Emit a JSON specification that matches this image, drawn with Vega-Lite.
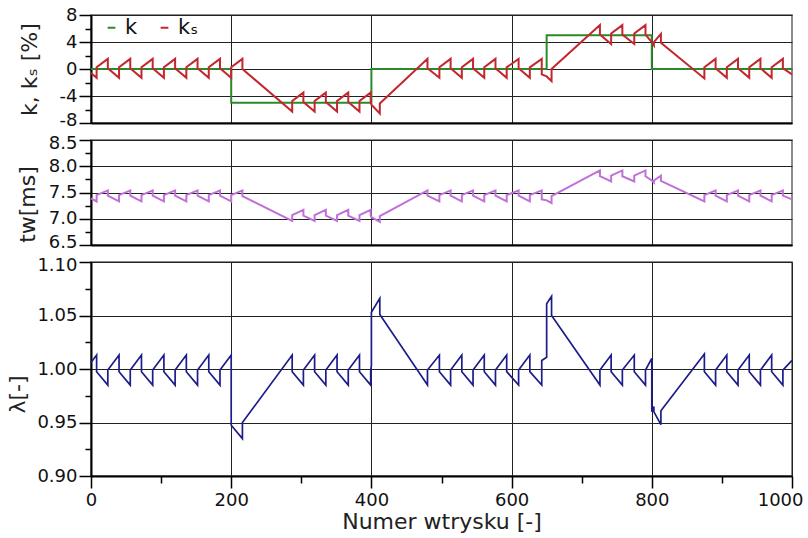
{
"$schema": "https://vega.github.io/schema/vega-lite/v6.json",
"padding": {"left": 5, "top": 5, "right": 0, "bottom": 0},
"background": "white",
"bounds": "flush",
"spacing": 17,
"config": {
  "font": "DejaVu Sans",
  "view": {"stroke": "#666", "strokeWidth": 1.5},
  "axis": {"labelFont": "DejaVu Sans", "labelFontSize": 18, "labelColor": "#111", "titleFont": "DejaVu Sans", "titleFontSize": 22, "titleFontWeight": "normal", "titleColor": "#222", "domainColor": "#000", "domainWidth": 2, "tickColor": "#000", "tickWidth": 1.5, "gridColor": "#222", "gridWidth": 1, "labelOverlap": false}
},
"datasets": {
"k": [{"i":1,"x":0,"v":0},{"i":2,"x":200,"v":0},{"i":3,"x":200,"v":-5},{"i":4,"x":400,"v":-5},{"i":5,"x":400,"v":0},{"i":6,"x":650,"v":0},{"i":7,"x":650,"v":5},{"i":8,"x":800,"v":5},{"i":9,"x":800,"v":0},{"i":10,"x":1000,"v":0}],
"ks": [
{"i":1,"x":0,"v":-0.6},{"i":2,"x":8,"v":-1.3},{"i":3,"x":8,"v":0.25},{"i":4,"x":24,"v":1.5},{"i":5,"x":24,"v":0.1},
{"i":6,"x":40,"v":-1.3},{"i":7,"x":40,"v":0.25},{"i":8,"x":56,"v":1.5},{"i":9,"x":56,"v":0.1},
{"i":10,"x":72,"v":-1.3},{"i":11,"x":72,"v":0.25},{"i":12,"x":88,"v":1.5},{"i":13,"x":88,"v":0.1},
{"i":14,"x":104,"v":-1.3},{"i":15,"x":104,"v":0.25},{"i":16,"x":120,"v":1.5},{"i":17,"x":120,"v":0.1},
{"i":18,"x":136,"v":-1.3},{"i":19,"x":136,"v":0.25},{"i":20,"x":152,"v":1.5},{"i":21,"x":152,"v":0.1},
{"i":22,"x":168,"v":-1.3},{"i":23,"x":168,"v":0.25},{"i":24,"x":184,"v":1.5},{"i":25,"x":184,"v":0.1},
{"i":26,"x":200,"v":-1.3},{"i":27,"x":200,"v":0.25},{"i":28,"x":216,"v":1.5},{"i":29,"x":216,"v":0},
{"i":30,"x":287,"v":-6.3},{"i":31,"x":287,"v":-4.75},{"i":32,"x":303,"v":-3.5},{"i":33,"x":303,"v":-4.9},
{"i":34,"x":319,"v":-6.3},{"i":35,"x":319,"v":-4.75},{"i":36,"x":335,"v":-3.5},{"i":37,"x":335,"v":-4.9},
{"i":38,"x":351,"v":-6.3},{"i":39,"x":351,"v":-4.75},{"i":40,"x":367,"v":-3.5},{"i":41,"x":367,"v":-4.9},
{"i":42,"x":383,"v":-6.3},{"i":43,"x":383,"v":-4.75},{"i":44,"x":399,"v":-3.5},{"i":45,"x":399,"v":-4.9},
{"i":46,"x":400,"v":-5.3},{"i":47,"x":412,"v":-6.6},{"i":48,"x":412,"v":-5.1},
{"i":49,"x":480,"v":1.5},{"i":50,"x":480,"v":0.1},{"i":51,"x":497,"v":-1.3},{"i":52,"x":497,"v":0.25},
{"i":53,"x":513,"v":1.5},{"i":54,"x":513,"v":0.1},{"i":55,"x":529,"v":-1.3},{"i":56,"x":529,"v":0.25},
{"i":57,"x":545,"v":1.5},{"i":58,"x":545,"v":0.1},{"i":59,"x":561,"v":-1.3},{"i":60,"x":561,"v":0.25},
{"i":61,"x":577,"v":1.5},{"i":62,"x":577,"v":0.1},{"i":63,"x":593,"v":-1.3},{"i":64,"x":593,"v":0.25},
{"i":65,"x":610,"v":1.5},{"i":66,"x":610,"v":0.1},{"i":67,"x":626,"v":-1.3},{"i":68,"x":626,"v":0.25},
{"i":69,"x":643,"v":1.5},{"i":70,"x":643,"v":-0.8},{"i":71,"x":650,"v":-1.1},{"i":72,"x":657,"v":-1.8},{"i":73,"x":657,"v":0},
{"i":74,"x":726,"v":6.5},{"i":75,"x":726,"v":5.1},{"i":76,"x":742,"v":3.7},{"i":77,"x":742,"v":5.25},
{"i":78,"x":758,"v":6.5},{"i":79,"x":758,"v":5.1},{"i":80,"x":775,"v":3.7},{"i":81,"x":775,"v":5.25},
{"i":82,"x":791,"v":6.5},{"i":83,"x":791,"v":5.1},{"i":84,"x":800,"v":4.0},
{"i":85,"x":803,"v":3.5},{"i":86,"x":803,"v":4.0},{"i":87,"x":813,"v":5.2},{"i":88,"x":813,"v":3.9},
{"i":89,"x":875,"v":-1.4},{"i":90,"x":875,"v":0.25},{"i":91,"x":891,"v":1.5},{"i":92,"x":891,"v":0.1},
{"i":93,"x":907,"v":-1.3},{"i":94,"x":907,"v":0.25},{"i":95,"x":923,"v":1.5},{"i":96,"x":923,"v":0.1},
{"i":97,"x":939,"v":-1.3},{"i":98,"x":939,"v":0.25},{"i":99,"x":955,"v":1.5},{"i":100,"x":955,"v":0.1},
{"i":101,"x":971,"v":-1.3},{"i":102,"x":971,"v":0.25},{"i":103,"x":987,"v":1.5},{"i":104,"x":987,"v":0.1},
{"i":105,"x":1000,"v":-0.8}],
"tw": [
{"i":1,"x":0,"v":7.39},{"i":2,"x":8,"v":7.33},{"i":3,"x":8,"v":7.45},{"i":4,"x":24,"v":7.54},{"i":5,"x":24,"v":7.44},
{"i":6,"x":40,"v":7.33},{"i":7,"x":40,"v":7.45},{"i":8,"x":56,"v":7.54},{"i":9,"x":56,"v":7.44},
{"i":10,"x":72,"v":7.33},{"i":11,"x":72,"v":7.45},{"i":12,"x":88,"v":7.54},{"i":13,"x":88,"v":7.44},
{"i":14,"x":104,"v":7.33},{"i":15,"x":104,"v":7.45},{"i":16,"x":120,"v":7.54},{"i":17,"x":120,"v":7.44},
{"i":18,"x":136,"v":7.33},{"i":19,"x":136,"v":7.45},{"i":20,"x":152,"v":7.54},{"i":21,"x":152,"v":7.44},
{"i":22,"x":168,"v":7.33},{"i":23,"x":168,"v":7.45},{"i":24,"x":184,"v":7.54},{"i":25,"x":184,"v":7.44},
{"i":26,"x":200,"v":7.33},{"i":27,"x":200,"v":7.45},{"i":28,"x":216,"v":7.54},{"i":29,"x":216,"v":7.43},
{"i":30,"x":287,"v":6.96},{"i":31,"x":287,"v":7.07},{"i":32,"x":303,"v":7.17},{"i":33,"x":303,"v":7.06},
{"i":34,"x":319,"v":6.96},{"i":35,"x":319,"v":7.07},{"i":36,"x":335,"v":7.17},{"i":37,"x":335,"v":7.06},
{"i":38,"x":351,"v":6.96},{"i":39,"x":351,"v":7.07},{"i":40,"x":367,"v":7.17},{"i":41,"x":367,"v":7.06},
{"i":42,"x":383,"v":6.96},{"i":43,"x":383,"v":7.07},{"i":44,"x":399,"v":7.17},{"i":45,"x":399,"v":7.06},
{"i":46,"x":400,"v":7.03},{"i":47,"x":412,"v":6.94},{"i":48,"x":412,"v":7.05},
{"i":49,"x":480,"v":7.54},{"i":50,"x":480,"v":7.44},{"i":51,"x":497,"v":7.33},{"i":52,"x":497,"v":7.45},
{"i":53,"x":513,"v":7.54},{"i":54,"x":513,"v":7.44},{"i":55,"x":529,"v":7.33},{"i":56,"x":529,"v":7.45},
{"i":57,"x":545,"v":7.54},{"i":58,"x":545,"v":7.44},{"i":59,"x":561,"v":7.33},{"i":60,"x":561,"v":7.45},
{"i":61,"x":577,"v":7.54},{"i":62,"x":577,"v":7.44},{"i":63,"x":593,"v":7.33},{"i":64,"x":593,"v":7.45},
{"i":65,"x":610,"v":7.54},{"i":66,"x":610,"v":7.44},{"i":67,"x":626,"v":7.33},{"i":68,"x":626,"v":7.45},
{"i":69,"x":643,"v":7.54},{"i":70,"x":643,"v":7.37},{"i":71,"x":650,"v":7.35},{"i":72,"x":657,"v":7.30},{"i":73,"x":657,"v":7.43},
{"i":74,"x":726,"v":7.92},{"i":75,"x":726,"v":7.81},{"i":76,"x":742,"v":7.71},{"i":77,"x":742,"v":7.82},
{"i":78,"x":758,"v":7.92},{"i":79,"x":758,"v":7.81},{"i":80,"x":775,"v":7.71},{"i":81,"x":775,"v":7.82},
{"i":82,"x":791,"v":7.92},{"i":83,"x":791,"v":7.81},{"i":84,"x":800,"v":7.73},
{"i":85,"x":803,"v":7.69},{"i":86,"x":803,"v":7.73},{"i":87,"x":813,"v":7.82},{"i":88,"x":813,"v":7.72},
{"i":89,"x":875,"v":7.33},{"i":90,"x":875,"v":7.45},{"i":91,"x":891,"v":7.54},{"i":92,"x":891,"v":7.44},
{"i":93,"x":907,"v":7.33},{"i":94,"x":907,"v":7.45},{"i":95,"x":923,"v":7.54},{"i":96,"x":923,"v":7.44},
{"i":97,"x":939,"v":7.33},{"i":98,"x":939,"v":7.45},{"i":99,"x":955,"v":7.54},{"i":100,"x":955,"v":7.44},
{"i":101,"x":971,"v":7.33},{"i":102,"x":971,"v":7.45},{"i":103,"x":987,"v":7.54},{"i":104,"x":987,"v":7.44},
{"i":105,"x":1000,"v":7.37}],
"lam": [
{"i":1,"x":0,"v":1.006},{"i":2,"x":8,"v":1.013},{"i":3,"x":8,"v":0.9975},{"i":4,"x":24,"v":0.985},{"i":5,"x":24,"v":0.999},
{"i":6,"x":40,"v":1.013},{"i":7,"x":40,"v":0.9975},{"i":8,"x":56,"v":0.985},{"i":9,"x":56,"v":0.999},
{"i":10,"x":72,"v":1.013},{"i":11,"x":72,"v":0.9975},{"i":12,"x":88,"v":0.985},{"i":13,"x":88,"v":0.999},
{"i":14,"x":104,"v":1.013},{"i":15,"x":104,"v":0.9975},{"i":16,"x":120,"v":0.985},{"i":17,"x":120,"v":0.999},
{"i":18,"x":136,"v":1.013},{"i":19,"x":136,"v":0.9975},{"i":20,"x":152,"v":0.985},{"i":21,"x":152,"v":0.999},
{"i":22,"x":168,"v":1.013},{"i":23,"x":168,"v":0.9975},{"i":24,"x":184,"v":0.985},{"i":25,"x":184,"v":0.999},
{"i":26,"x":200,"v":1.013},{"i":27,"x":200,"v":0.9475},{"i":28,"x":216,"v":0.935},{"i":29,"x":216,"v":0.95},
{"i":30,"x":287,"v":1.013},{"i":31,"x":287,"v":0.9975},{"i":32,"x":303,"v":0.985},{"i":33,"x":303,"v":0.999},
{"i":34,"x":319,"v":1.013},{"i":35,"x":319,"v":0.9975},{"i":36,"x":335,"v":0.985},{"i":37,"x":335,"v":0.999},
{"i":38,"x":351,"v":1.013},{"i":39,"x":351,"v":0.9975},{"i":40,"x":367,"v":0.985},{"i":41,"x":367,"v":0.999},
{"i":42,"x":383,"v":1.013},{"i":43,"x":383,"v":0.9975},{"i":44,"x":399,"v":0.985},{"i":45,"x":399,"v":0.999},
{"i":46,"x":400,"v":1.003},{"i":47,"x":400,"v":1.053},{"i":48,"x":412,"v":1.066},{"i":49,"x":412,"v":1.051},
{"i":50,"x":480,"v":0.985},{"i":51,"x":480,"v":0.999},{"i":52,"x":497,"v":1.013},{"i":53,"x":497,"v":0.9975},
{"i":54,"x":513,"v":0.985},{"i":55,"x":513,"v":0.999},{"i":56,"x":529,"v":1.013},{"i":57,"x":529,"v":0.9975},
{"i":58,"x":545,"v":0.985},{"i":59,"x":545,"v":0.999},{"i":60,"x":561,"v":1.013},{"i":61,"x":561,"v":0.9975},
{"i":62,"x":577,"v":0.985},{"i":63,"x":577,"v":0.999},{"i":64,"x":593,"v":1.013},{"i":65,"x":593,"v":0.9975},
{"i":66,"x":610,"v":0.985},{"i":67,"x":610,"v":0.999},{"i":68,"x":626,"v":1.013},{"i":69,"x":626,"v":0.9975},
{"i":70,"x":643,"v":0.985},{"i":71,"x":643,"v":1.008},{"i":72,"x":650,"v":1.011},{"i":73,"x":650,"v":1.061},
{"i":74,"x":657,"v":1.068},{"i":75,"x":657,"v":1.05},
{"i":76,"x":726,"v":0.985},{"i":77,"x":726,"v":0.999},{"i":78,"x":742,"v":1.013},{"i":79,"x":742,"v":0.9975},
{"i":80,"x":758,"v":0.985},{"i":81,"x":758,"v":0.999},{"i":82,"x":775,"v":1.013},{"i":83,"x":775,"v":0.9975},
{"i":84,"x":791,"v":0.985},{"i":85,"x":791,"v":0.999},{"i":86,"x":800,"v":1.01},{"i":87,"x":800,"v":0.96},
{"i":88,"x":803,"v":0.965},{"i":89,"x":803,"v":0.96},{"i":90,"x":813,"v":0.948},{"i":91,"x":813,"v":0.961},
{"i":92,"x":875,"v":1.014},{"i":93,"x":875,"v":0.9975},{"i":94,"x":891,"v":0.985},{"i":95,"x":891,"v":0.999},
{"i":96,"x":907,"v":1.013},{"i":97,"x":907,"v":0.9975},{"i":98,"x":923,"v":0.985},{"i":99,"x":923,"v":0.999},
{"i":100,"x":939,"v":1.013},{"i":101,"x":939,"v":0.9975},{"i":102,"x":955,"v":0.985},{"i":103,"x":955,"v":0.999},
{"i":104,"x":971,"v":1.013},{"i":105,"x":971,"v":0.9975},{"i":106,"x":987,"v":0.985},{"i":107,"x":987,"v":0.999},
{"i":108,"x":1000,"v":1.008}]
},
"vconcat": [
{
  "width": 701, "height": 108,
  "encoding": {
    "x": {"field": "x", "type": "quantitative", "scale": {"domain": [0, 1000], "nice": false}, "axis": {"values": [200, 400, 600, 800], "labels": false, "ticks": false, "title": null, "grid": true}},
    "y": {"field": "v", "type": "quantitative", "scale": {"domain": [-8, 8], "nice": false, "zero": false},
      "axis": {"title": "k, kₛ [%]", "values": [-8, -6, -4, -2, 0, 2, 4, 6, 8],
        "labelExpr": "datum.value % 4 === 0 ? '' + datum.value : ''",
        "tickSize": {"condition": {"test": "datum.value % 4 === 0", "value": 12}, "value": 6},
        "gridOpacity": {"condition": {"test": "datum.value % 4 === 0", "value": 1}, "value": 0},
        "labelOffset": {"condition": {"test": "datum.value === -8", "value": -3}, "value": 0},
        "labelPadding": 2, "titleX": -50, "titleY": 54}},
    "order": {"field": "i", "type": "quantitative"}
  },
  "layer": [
    {"data": {"name": "k"}, "mark": {"type": "line", "strokeWidth": 2},
     "encoding": {"color": {"datum": "k", "scale": {"domain": ["k", "kₛ"], "range": ["#2a8a2a", "#c4262e"]},
       "legend": {"orient": "none", "legendX": 10, "legendY": 2, "direction": "horizontal", "title": null, "symbolType": "stroke", "symbolSize": 60, "symbolStrokeWidth": 2, "labelFontSize": 21, "labelFont": "DejaVu Sans", "labelColor": "#111", "columnPadding": 16, "labelOffset": 3}}}},
    {"data": {"name": "ks"}, "mark": {"type": "line", "strokeWidth": 2},
     "encoding": {"color": {"datum": "kₛ"}}}
  ]
},
{
  "width": 701, "height": 105,
  "data": {"name": "tw"},
  "mark": {"type": "line", "strokeWidth": 2, "color": "#c070d8"},
  "encoding": {
    "x": {"field": "x", "type": "quantitative", "scale": {"domain": [0, 1000], "nice": false}, "axis": {"values": [200, 400, 600, 800], "labels": false, "ticks": false, "title": null, "grid": true}},
    "y": {"field": "v", "type": "quantitative", "scale": {"domain": [6.5, 8.5], "nice": false, "zero": false},
      "axis": {"title": "tw[ms]", "values": [6.5, 6.75, 7, 7.25, 7.5, 7.75, 8, 8.25, 8.5],
        "labelExpr": "(datum.value * 4) % 2 === 0 ? format(datum.value, '.1f') : ''",
        "tickSize": {"condition": {"test": "(datum.value * 4) % 2 === 0", "value": 12}, "value": 6},
        "gridOpacity": {"condition": {"test": "(datum.value * 4) % 2 === 0", "value": 1}, "value": 0},
        "labelOffset": {"condition": [{"test": "datum.value === 8.5", "value": 3}, {"test": "datum.value === 6.5", "value": -3}], "value": 0},
        "labelPadding": 2, "titleX": -52, "titleY": 64}},
    "order": {"field": "i", "type": "quantitative"}
  }
},
{
  "width": 701, "height": 214,
  "data": {"name": "lam"},
  "mark": {"type": "line", "strokeWidth": 1.7, "color": "#1c1c8a"},
  "encoding": {
    "x": {"field": "x", "type": "quantitative", "scale": {"domain": [0, 1000], "nice": false},
      "axis": {"title": "Numer wtrysku [-]", "values": [0, 100, 200, 300, 400, 500, 600, 700, 800, 900, 1000],
        "labelExpr": "datum.value % 200 === 0 ? '' + datum.value : ''",
        "tickSize": {"condition": {"test": "datum.value % 200 === 0", "value": 12}, "value": 7},
        "gridOpacity": {"condition": {"test": "datum.value % 200 === 0", "value": 1}, "value": 0},
        "labelAlign": {"condition": {"test": "datum.value === 1000", "value": "right"}, "value": "center"},
        "labelOffset": {"condition": {"test": "datum.value === 1000", "value": 11}, "value": 0},
        "labelPadding": 3, "titlePadding": 2}},
    "y": {"field": "v", "type": "quantitative", "scale": {"domain": [0.9, 1.1], "nice": false, "zero": false},
      "axis": {"title": "λ[-]", "values": [0.9, 0.925, 0.95, 0.975, 1.0, 1.025, 1.05, 1.075, 1.1],
        "labelExpr": "round(datum.value * 1000) % 50 === 0 ? format(datum.value, '.2f') : ''",
        "tickSize": {"condition": {"test": "round(datum.value * 1000) % 50 === 0", "value": 12}, "value": 6},
        "gridOpacity": {"condition": {"test": "round(datum.value * 1000) % 50 === 0", "value": 1}, "value": 0},
        "labelOffset": {"condition": {"test": "round(datum.value * 1000) === 1100", "value": 3}, "value": 0},
        "labelPadding": 2, "titleX": -62, "titleY": 132}},
    "order": {"field": "i", "type": "quantitative"}
  }
}
]
}
